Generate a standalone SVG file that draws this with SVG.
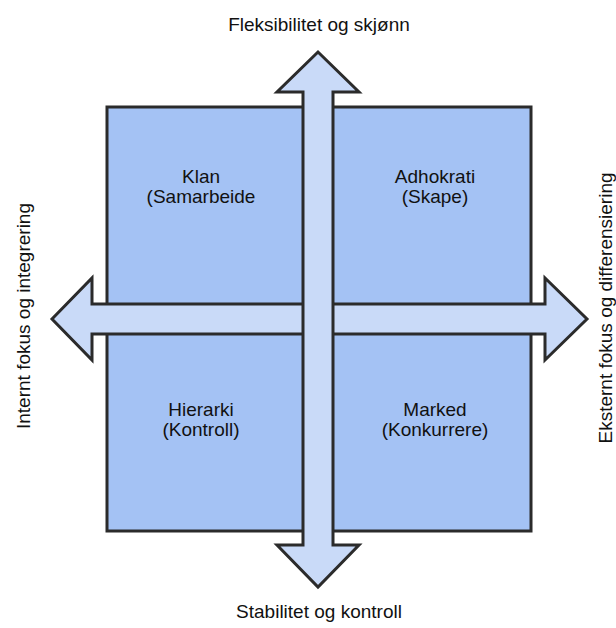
<svg xmlns="http://www.w3.org/2000/svg" width="616" height="628" viewBox="0 0 616 628">
<style>
.q{fill:#a4c2f4;stroke:#2b2b2b;stroke-width:3}
.ar{fill:#c9daf8;stroke:#2b2b2b;stroke-width:3;stroke-linejoin:miter}
text{font-family:"Liberation Sans",Arial,sans-serif;font-size:19px;fill:#111;text-anchor:middle}
</style>
<rect width="616" height="628" fill="#fff"/>
<g id="klan"><rect class="q" x="107" y="107" width="211" height="212"/><text x="201" y="183">Klan</text><text x="201" y="203">(Samarbeide</text></g>
<g id="adhokrati"><rect class="q" x="318" y="107" width="213" height="212"/><text x="435" y="183">Adhokrati</text><text x="435" y="203">(Skape)</text></g>
<g id="hierarki"><rect class="q" x="107" y="319" width="211" height="212"/><text x="201" y="416">Hierarki</text><text x="201" y="436">(Kontroll)</text></g>
<g id="marked"><rect class="q" x="318" y="319" width="213" height="212"/><text x="435" y="416">Marked</text><text x="435" y="436">(Konkurrere)</text></g>
<g id="connectors">
<path id="h-arrow" class="ar" d="M52,319 L92,278 L92,304 L545,304 L545,278 L587,319 L545,360 L545,334 L92,334 L92,360 Z"/>
<path id="v-arrow" class="ar" d="M318,52 L277,92 L303,92 L303,545 L277,545 L318,587 L359,545 L333,545 L333,92 L359,92 Z"/>
</g>
<g id="labels">
<text x="319" y="31">Fleksibilitet og skjønn</text>
<text x="319" y="618">Stabilitet og kontroll</text>
<text transform="translate(30,316) rotate(-90)">Internt fokus og integrering</text>
<text transform="translate(612,308) rotate(-90)">Eksternt fokus og differensiering</text>
</g>
</svg>
